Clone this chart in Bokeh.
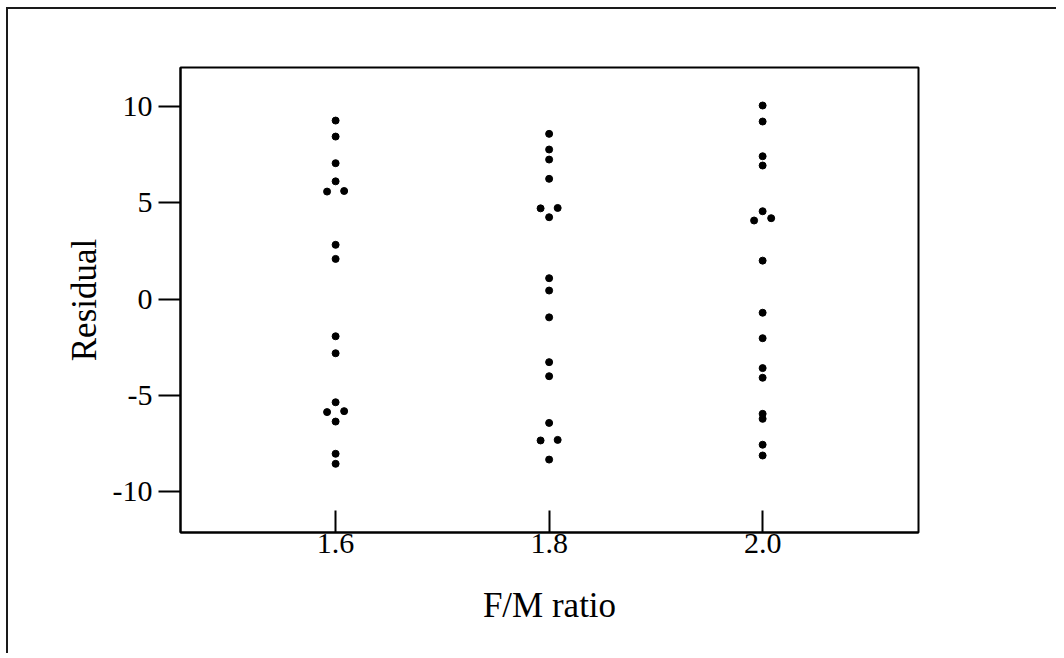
from bokeh.plotting import figure
from bokeh.models import FixedTicker, Range1d, CustomJSTickFormatter
from bokeh.embed import file_html
from bokeh.resources import INLINE

# F/M ratio groups (small horizontal offsets = side-by-side overlapping points)
x_16 = [1.6, 1.6, 1.6, 1.6, 1.592, 1.608, 1.6, 1.6,
        1.6, 1.6, 1.6, 1.592, 1.608, 1.6, 1.6, 1.6]
res_16 = [9.25, 8.42, 7.04, 6.10, 5.57, 5.60, 2.81, 2.08,
          -1.93, -2.81, -5.35, -5.86, -5.81, -6.35, -8.02, -8.54]

x_18 = [1.8, 1.8, 1.8, 1.8, 1.792, 1.808, 1.8, 1.8,
        1.8, 1.8, 1.8, 1.8, 1.8, 1.792, 1.808, 1.8]
res_18 = [8.56, 7.75, 7.23, 6.23, 4.70, 4.72, 4.24, 1.08,
          0.44, -0.95, -3.27, -4.00, -6.42, -7.33, -7.30, -8.32]

x_20 = [2.0, 2.0, 2.0, 2.0, 2.0, 1.992, 2.008, 2.0,
        2.0, 2.0, 2.0, 2.0, 2.0, 2.0, 2.0, 2.0]
res_20 = [10.03, 9.20, 7.40, 6.92, 4.55, 4.07, 4.19, 1.99,
          -0.71, -2.03, -3.58, -4.08, -5.95, -6.21, -7.55, -8.11]

x_ticks = [1.6, 1.8, 2.0]
y_ticks = [-10, -5, 0, 5, 10]

FONT = "Liberation Serif"

p = figure(width=1050, height=646, output_backend="svg", toolbar_location=None,
           x_range=Range1d(1.4547, 2.146), y_range=Range1d(-12.1, 12.0),
           min_border_left=172, min_border_right=140,
           min_border_top=58, min_border_bottom=123)
p.styles = {"margin-top": "7px", "margin-left": "6px",
            "border-top": "2px solid #1a1a1a", "border-left": "2px solid #1a1a1a"}

xs = x_16 + x_18 + x_20
ys = res_16 + res_18 + res_20
p.scatter(xs, ys, size=7, color="black")

p.xgrid.visible = False
p.ygrid.visible = False
p.outline_line_color = "black"
p.outline_line_width = 2
p.outline_line_alpha = 1

p.xaxis.ticker = FixedTicker(ticks=x_ticks)
p.xaxis.formatter = CustomJSTickFormatter(code="return tick.toFixed(1);")
p.yaxis.ticker = FixedTicker(ticks=y_ticks)
p.yaxis.formatter = CustomJSTickFormatter(code="return tick.toFixed(0);")

for ax in (p.xaxis[0], p.yaxis[0]):
    ax.axis_line_width = 2
    ax.axis_line_color = "black"
    ax.major_tick_line_width = 2
    ax.major_tick_line_color = "black"
    ax.minor_tick_line_color = None
    ax.major_label_text_font = FONT
    ax.major_label_text_font_size = "30px"
    ax.major_label_text_color = "black"
    ax.axis_label_text_font = FONT
    ax.axis_label_text_font_size = "35px"
    ax.axis_label_text_font_style = "normal"
    ax.axis_label_text_color = "black"

p.xaxis.major_tick_in = 22
p.xaxis.major_tick_out = 0
p.xaxis.major_label_standoff = 1
p.xaxis.axis_label = "F/M ratio"
p.xaxis.axis_label_standoff = 30

p.yaxis.major_tick_in = 0
p.yaxis.major_tick_out = 22
p.yaxis.major_label_standoff = 6
p.yaxis.axis_label = "Residual"
p.yaxis.axis_label_standoff = 6

open("out.html", "w").write(file_html(p, INLINE))
